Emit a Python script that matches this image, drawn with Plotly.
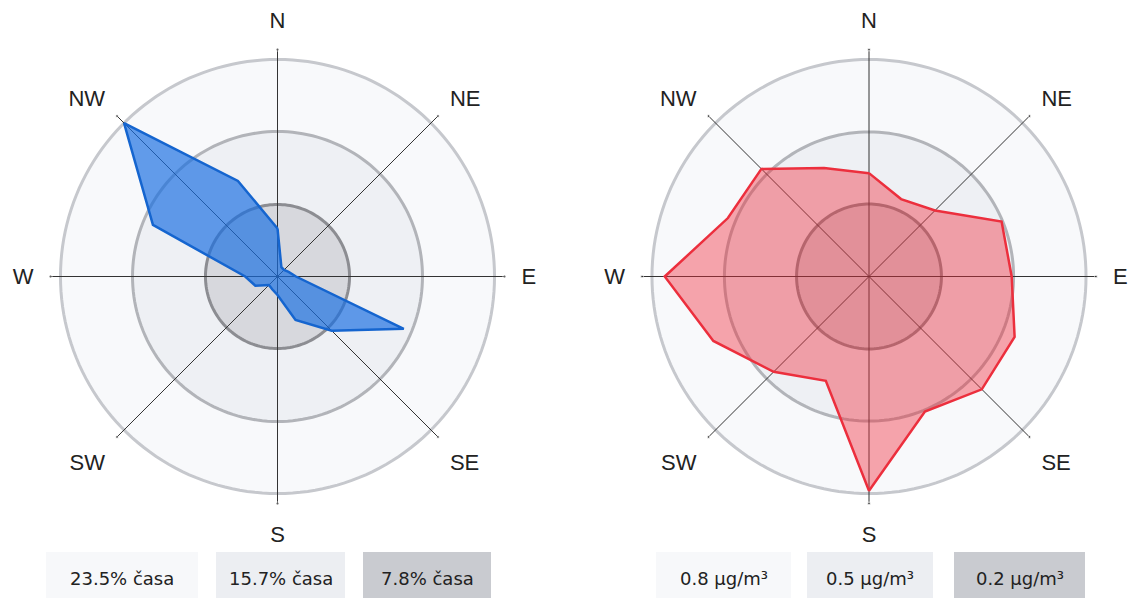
import numpy as np
import plotly.graph_objects as go

# ---- data ----
directions = ["N", "NNE", "NE", "ENE", "E", "ESE", "SE", "SSE",
              "S", "SSW", "SW", "WSW", "W", "WNW", "NW", "NNW"]
wind_freq = [5.2, 1.1, 1.0, 1.3, 2.0, 14.8, 8.3, 5.1,
             2.0, 1.5, 1.3, 2.6, 3.5, 14.6, 23.5, 11.2]          # % of time
conc = [0.381, 0.309, 0.344, 0.529, 0.526, 0.581, 0.588, 0.539,
        0.790, 0.416, 0.497, 0.621, 0.753, 0.563, 0.561, 0.433]  # µg/m³
compass_labels = ["N", "NE", "E", "SE", "S", "SW", "W", "NW"]
freq_rings = [23.5, 15.7, 7.8]
freq_ring_labels = ["23.5% časa", "15.7% časa", "7.8% časa"]
conc_rings = [0.8, 0.533, 0.267]
conc_ring_labels = ["0.8 µg/m³", "0.5 µg/m³", "0.2 µg/m³"]

# ---- styles ----
ring_fill = ["#f8f9fb", "#eef0f4", "#d7d8dd"]
ring_line = ["#c6c8cd", "#b2b4b9", "#8c8d92"]
box_fill = ["#f7f8fa", "#eceef2", "#c9cbd0"]
W, H = 1137, 598

theta_data = [i * 360 / len(directions) for i in range(len(directions))]
circle_theta = np.linspace(0, 360, 181)
spoke_angles = [i * 45 for i in range(len(compass_labels))]

fig = go.Figure()


def add_rose(subplot, rings, values, line_color, fill_color):
    rmax = rings[0] * 1.046
    # concentric shaded rings
    for k, rv in enumerate(rings):
        fig.add_trace(go.Scatterpolar(
            r=[rv] * len(circle_theta), theta=circle_theta, mode="lines",
            fill="toself", fillcolor=ring_fill[k],
            line=dict(color=ring_line[k], width=3),
            hoverinfo="skip", showlegend=False, subplot=subplot))
    # spokes
    for a in spoke_angles[:4]:
        fig.add_trace(go.Scatterpolar(
            r=[rmax, 0, rmax], theta=[a, a, a + 180], mode="lines+markers",
            line=dict(color="#333333", width=1),
            marker=dict(size=[3, 0, 3], color="#333333"),
            hoverinfo="skip", showlegend=False, subplot=subplot))
    # data polygon
    fig.add_trace(go.Scatterpolar(
        r=values + values[:1], theta=theta_data + theta_data[:1],
        mode="lines", fill="toself", fillcolor=fill_color,
        line=dict(color=line_color, width=2.5),
        showlegend=False, subplot=subplot))
    return rmax


r1 = add_rose("polar", freq_rings, wind_freq, "#1565cf", "rgba(25,110,225,0.68)")
r2 = add_rose("polar2", conc_rings, conc, "#ec2f3d", "rgba(240,45,60,0.42)")


def polar_layout(cx, rmax):
    R = 227
    cy = 276.5
    return dict(
        domain=dict(x=[(cx - R) / W, (cx + R) / W],
                    y=[(H - cy - R) / H, (H - cy + R) / H]),
        bgcolor="white",
        radialaxis=dict(visible=False, range=[0, rmax]),
        angularaxis=dict(direction="clockwise", rotation=90,
                         tickmode="array", tickvals=spoke_angles,
                         ticktext=compass_labels, showgrid=False,
                         showline=False, ticks="outside", ticklen=12,
                         tickcolor="rgba(0,0,0,0)",
                         tickfont=dict(family="Liberation Sans, Arial",
                                       size=22, color="#222222")),
    )


fig.update_layout(
    width=W, height=H,
    margin=dict(l=0, r=0, t=0, b=0),
    paper_bgcolor="white",
    polar=polar_layout(277.5, r1),
    polar2=polar_layout(869, r2),
)

# legend boxes
left_boxes = [(46, 198), (216, 345), (363, 491)]
right_boxes = [(656, 791), (807, 933), (954, 1085)]
shapes, annos = [], []
for boxes, labels in ((left_boxes, freq_ring_labels), (right_boxes, conc_ring_labels)):
    for k, ((x0, x1), lab) in enumerate(zip(boxes, labels)):
        shapes.append(dict(type="rect", xref="paper", yref="paper",
                           x0=x0 / W, x1=x1 / W, y0=0, y1=(H - 552) / H,
                           fillcolor=box_fill[k], line=dict(width=0),
                           layer="below"))
        annos.append(dict(x=(x0 + x1) / 2 / W, y=(H - 578) / H,
                          xref="paper", yref="paper", text=lab,
                          showarrow=False, xanchor="center", yanchor="middle",
                          font=dict(family="DejaVu Sans", size=18,
                                    color="#222222")))
fig.update_layout(shapes=shapes, annotations=annos)

fig.write_html("out.html", config={"displayModeBar": False},
               post_script="document.body.style.margin='0';"
                           "document.body.style.overflow='hidden';")
